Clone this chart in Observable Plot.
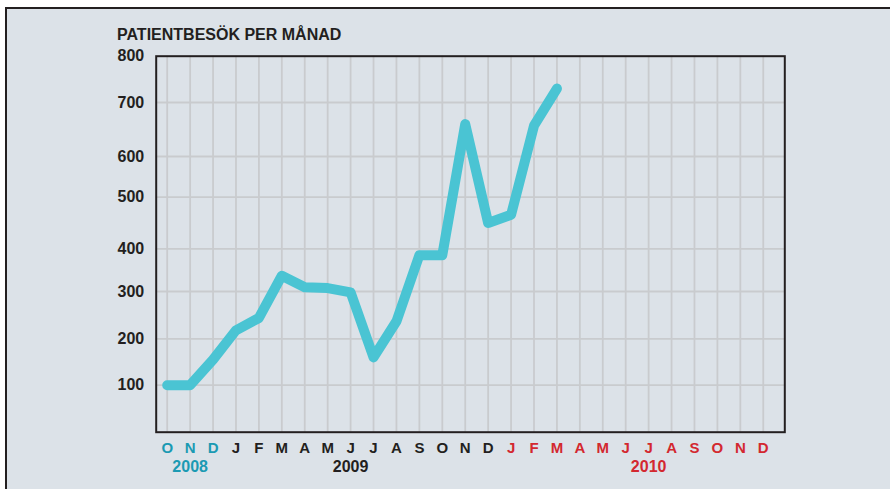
<!DOCTYPE html>
<html>
<head>
<meta charset="utf-8">
<script src="https://cdn.jsdelivr.net/npm/d3@7"></script>
<script src="https://cdn.jsdelivr.net/npm/@observablehq/plot@0.6"></script>
<style>
  html, body { margin: 0; padding: 0; background: #ffffff; }
  #wrap { position: relative; width: 890px; height: 489px; overflow: hidden; font-family: "Liberation Sans", Arial, sans-serif; }
  #panel { position: absolute; left: 5px; top: 7px; right: 0; bottom: 0; background: #dce2e8;
           border-left: 2px solid #231f20; border-top: 2px solid #231f20; }
  #title { position: absolute; left: 117px; top: 26px; font-size: 16px; font-weight: 700; color: #231f20; letter-spacing: 0px; }
  #chart { position: absolute; left: 0; top: 0; }
</style>
</head>
<body>
<div id="wrap">
  <div id="panel"></div>
  <div id="title">PATIENTBESÖK PER MÅNAD</div>
  <div id="chart"></div>
</div>
<script>
// Month labels on the x axis (Oct 2008 – Dec 2010)
const months = ["O","N","D",
  "J","F","M","A","M","J","J","A","S","O","N","D",
  "J","F","M","A","M","J","J","A","S","O","N","D"];
const monthYears = [2008,2008,2008,
  2009,2009,2009,2009,2009,2009,2009,2009,2009,2009,2009,2009,
  2010,2010,2010,2010,2010,2010,2010,2010,2010,2010,2010,2010];
// Patient visits per month (Oct 2008 – Mar 2010)
const visits = [100, 100, 155, 218, 244, 337, 310, 308, 298, 160, 237, 385, 385, 660, 450, 466, 657, 730];
// Y tick labels
const yTicks = [100, 200, 300, 400, 500, 600, 700, 800];
// Year labels and the month index they sit under
const years = [2008, 2009, 2010];
const yearLabelMonth = [1, 8, 21];

const yearColor = {2008: "#1b9ab3", 2009: "#231f20", 2010: "#d3282f"};

const monthData = months.map((m, i) => ({i, m, year: monthYears[i]}));
const visitData = visits.map((v, i) => ({i, v}));
const yearData = years.map((y, k) => ({year: y, i: yearLabelMonth[k]}));
const gridX = months.map((m, i) => i);
const gridY = yTicks.filter(t => t < 800);

// The printed grid is hand-spaced; a piecewise linear scale follows it.
const yDomain = [0, ...yTicks];
const yRange = [431.7, 384.7, 338.3, 291, 248.3, 196.7, 156, 102, 55.7];

const chart = Plot.plot({
  width: 890,
  height: 489,
  marginLeft: 155.7,
  marginRight: 105.7,
  marginTop: 55.7,
  marginBottom: 57.3,
  style: {background: "transparent", fontFamily: "Liberation Sans, Arial, sans-serif", fontSize: "16px", fontWeight: "700", color: "#231f20", overflow: "visible"},
  x: {type: "linear", domain: [-0.48, 26.94], axis: null},
  y: {type: "linear", domain: yDomain, range: yRange, ticks: yTicks, tickSize: 0, tickPadding: 12, label: null, tickFormat: d => String(d)},
  marks: [
    Plot.ruleX(gridX, {x: d => d, stroke: "#c9cbce", strokeWidth: 1.8}),
    Plot.ruleY(gridY, {y: d => d, stroke: "#c9cbce", strokeWidth: 1.8}),
    Plot.frame({stroke: "#231f20", strokeWidth: 2}),
    Plot.line(visitData, {x: "i", y: "v", stroke: "#4ac4d3", strokeWidth: 10, strokeLinecap: "round", strokeLinejoin: "round"}),
    Plot.text(monthData, {x: "i", y: () => 0, text: "m", dy: 16, fontSize: 15, fontWeight: 700,
      fill: d => yearColor[d.year], textAnchor: "middle", lineAnchor: "middle"}),
    Plot.text(yearData, {x: "i", y: () => 0, text: d => String(d.year), dy: 35, fontSize: 16, fontWeight: 700,
      fill: d => yearColor[d.year], textAnchor: "middle", lineAnchor: "middle"})
  ]
});
document.getElementById("chart").appendChild(chart);
</script>
</body>
</html>
